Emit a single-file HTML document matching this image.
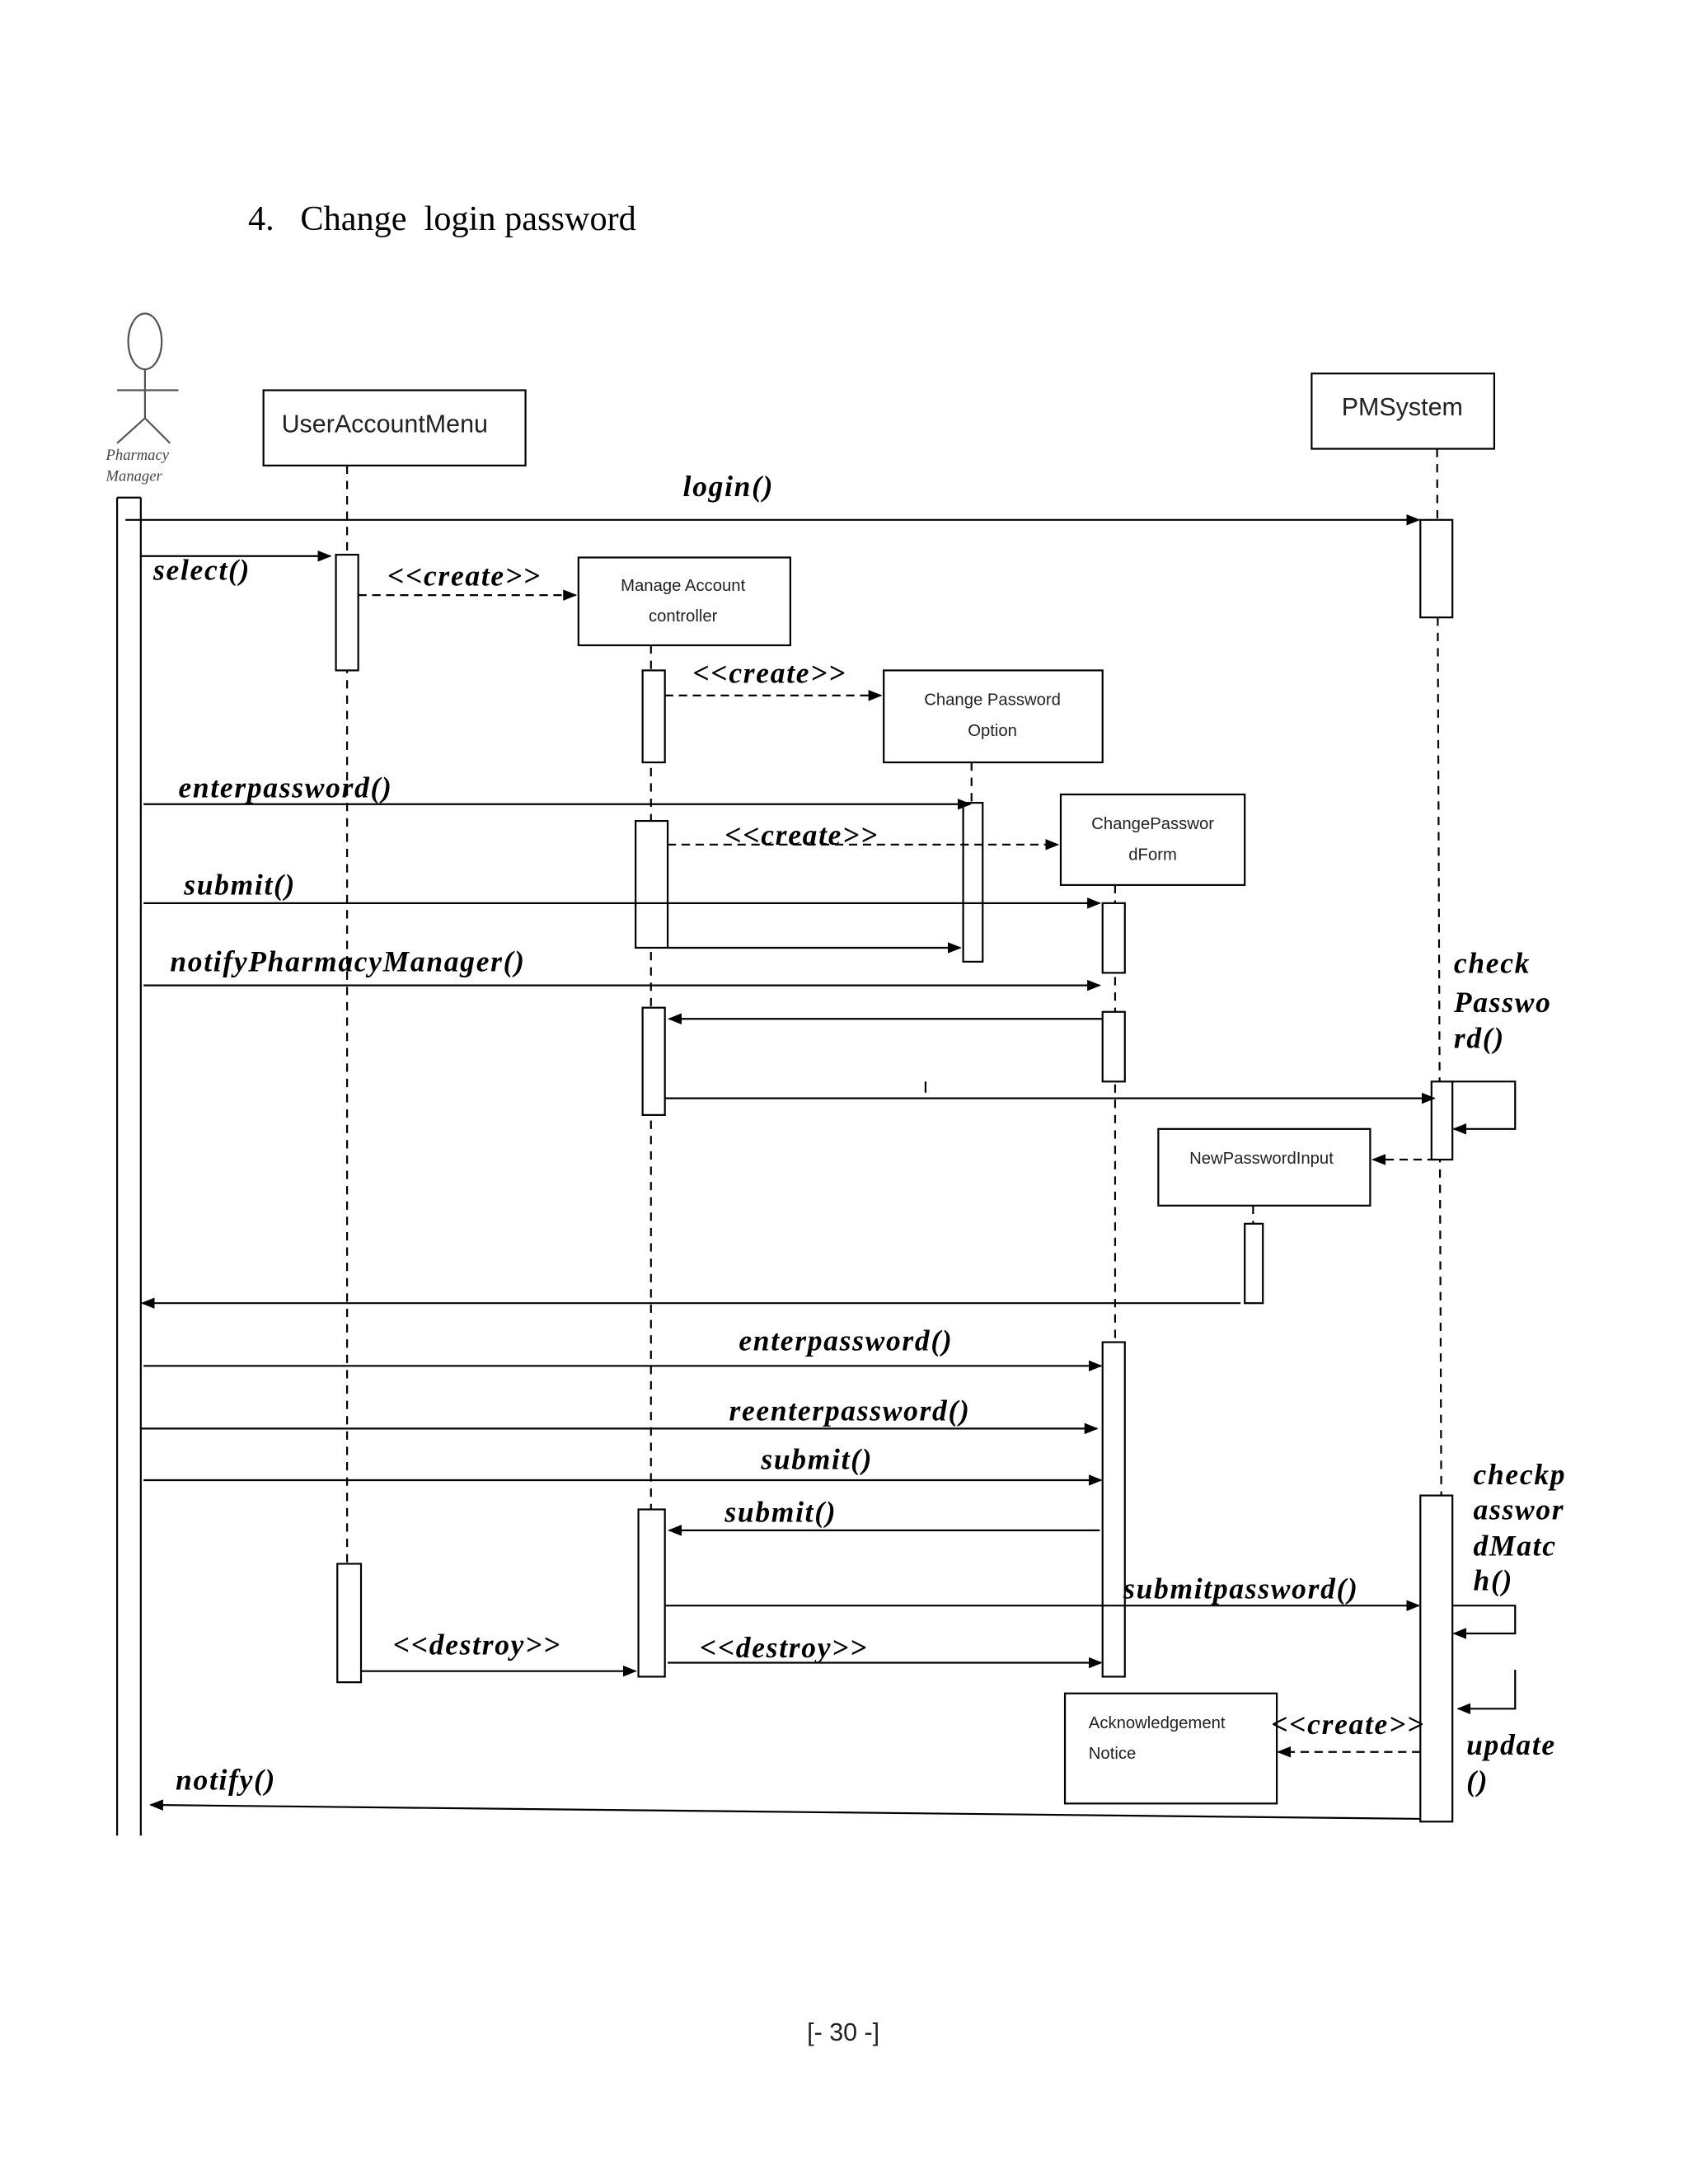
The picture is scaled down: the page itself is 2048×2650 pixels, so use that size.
<!DOCTYPE html>
<html><head><meta charset="utf-8"><style>
html,body{margin:0;padding:0;background:#fff;}
svg{display:block;}
.l{font-family:"Liberation Serif",serif;font-weight:bold;font-style:italic;font-size:21px;fill:#000;letter-spacing:1px;}
.s{font-family:"Liberation Sans",sans-serif;fill:#222;}
</style></head><body>
<svg width="2048" height="2650" viewBox="0 0 1211 1567" xmlns="http://www.w3.org/2000/svg">
<defs><marker id="a" markerWidth="10" markerHeight="8" refX="9" refY="4" orient="auto" markerUnits="userSpaceOnUse"><path d="M0,0 L10,4 L0,8 z" fill="#000"/></marker></defs>
<rect width="1211" height="1567" fill="#fff"/>
<text x="178" y="165" font-family="Liberation Serif,serif" font-size="25" style="white-space:pre">4.   Change  login password</text>
<g stroke="#000" stroke-width="1.3" fill="none">
<ellipse cx="104" cy="245" rx="12" ry="20" stroke="#555"/>
<line x1="104" y1="265" x2="104" y2="300" stroke="#555"/>
<line x1="84" y1="280" x2="128" y2="280" stroke="#555"/>
<line x1="104" y1="300" x2="84" y2="318" stroke="#555"/>
<line x1="104" y1="300" x2="122" y2="318" stroke="#555"/>
<line x1="84" y1="357" x2="84" y2="1317"/>
<line x1="101" y1="357" x2="101" y2="1317"/>
<line x1="84" y1="357" x2="101" y2="357"/>
<rect x="189" y="280" width="188" height="54"/>
<rect x="941" y="268" width="131" height="54"/>
<rect x="415" y="400" width="152" height="63"/>
<rect x="634" y="481" width="157" height="66"/>
<rect x="761" y="570" width="132" height="65"/>
<rect x="831" y="810" width="152" height="55"/>
<rect x="764" y="1215" width="152" height="79"/>
<g stroke-dasharray="6,5">
<line x1="249" y1="334" x2="249" y2="1122"/>
<line x1="467" y1="463" x2="467" y2="1083"/>
<line x1="697" y1="547" x2="697" y2="576"/>
<line x1="800" y1="635" x2="800" y2="963"/>
<line x1="1031" y1="322" x2="1034" y2="1073"/>
<line x1="899" y1="865" x2="899" y2="878"/>
</g>
<g fill="#fff">
<rect x="241" y="398" width="16" height="83"/>
<rect x="242" y="1122" width="17" height="85"/>
<rect x="461" y="481" width="16" height="66"/>
<rect x="456" y="589" width="23" height="91"/>
<rect x="461" y="723" width="16" height="77"/>
<rect x="458" y="1083" width="19" height="120"/>
<rect x="691" y="576" width="14" height="114"/>
<rect x="791" y="648" width="16" height="50"/>
<rect x="791" y="726" width="16" height="50"/>
<rect x="791" y="963" width="16" height="240"/>
<rect x="1019" y="373" width="23" height="70"/>
<rect x="1027" y="776" width="15" height="56"/>
<rect x="1019" y="1073" width="23" height="234"/>
<rect x="893" y="878" width="13" height="57"/>
</g>
<g marker-end="url(#a)">
<line x1="90" y1="373" x2="1018" y2="373"/>
<line x1="101" y1="399" x2="237" y2="399"/>
<line x1="257" y1="427" x2="413" y2="427" stroke-dasharray="6,4"/>
<line x1="477" y1="499" x2="632" y2="499" stroke-dasharray="6,4"/>
<line x1="103" y1="577" x2="696" y2="577"/>
<line x1="479" y1="606" x2="759" y2="606" stroke-dasharray="6,4"/>
<line x1="103" y1="648" x2="789" y2="648"/>
<line x1="479" y1="680" x2="689" y2="680"/>
<line x1="103" y1="707" x2="789" y2="707"/>
<line x1="791" y1="731" x2="480" y2="731"/>
<line x1="477" y1="788" x2="1029" y2="788"/>
<polyline points="1042,776 1087,776 1087,810 1043,810"/>
<line x1="1030" y1="832" x2="985" y2="832" stroke-dasharray="6,4"/>
<line x1="890" y1="935" x2="102" y2="935"/>
<line x1="103" y1="980" x2="790" y2="980"/>
<line x1="101" y1="1025" x2="787" y2="1025"/>
<line x1="103" y1="1062" x2="790" y2="1062"/>
<line x1="789" y1="1098" x2="480" y2="1098"/>
<line x1="477" y1="1152" x2="1018" y2="1152"/>
<line x1="259" y1="1199" x2="456" y2="1199"/>
<line x1="479" y1="1193" x2="790" y2="1193"/>
<polyline points="1042,1152 1087,1152 1087,1172 1043,1172"/>
<polyline points="1087,1198 1087,1226 1046,1226"/>
<line x1="1019" y1="1257" x2="917" y2="1257" stroke-dasharray="6,4"/>
<line x1="1019" y1="1305" x2="108" y2="1295"/>
</g>
<line x1="664" y1="776" x2="664" y2="784"/>
</g>
<text x="76" y="330" style="font-family:'Liberation Serif',serif;font-style:italic;font-size:11px;fill:#444">Pharmacy</text>
<text x="76" y="345" style="font-family:'Liberation Serif',serif;font-style:italic;font-size:11px;fill:#444">Manager</text>
<g class="s" text-anchor="middle">
<text x="276" y="310" font-size="18">UserAccountMenu</text>
<text x="1006" y="298" font-size="18">PMSystem</text>
<text x="490" y="424" font-size="12">Manage Account</text>
<text x="490" y="446" font-size="12">controller</text>
<text x="712" y="506" font-size="12">Change Password</text>
<text x="712" y="528" font-size="12">Option</text>
<text x="827" y="595" font-size="12">ChangePasswor</text>
<text x="827" y="617" font-size="12">dForm</text>
<text x="905" y="835" font-size="12">NewPasswordInput</text>
<text x="605" y="1464" font-size="18">[- 30 -]</text>
</g>
<g class="s" font-size="12">
<text x="781" y="1240">Acknowledgement</text>
<text x="781" y="1262">Notice</text>
</g>
<g class="l">
<text x="490" y="356">login()</text>
<text x="110" y="416">select()</text>
<text x="278" y="420">&lt;&lt;create&gt;&gt;</text>
<text x="497" y="490">&lt;&lt;create&gt;&gt;</text>
<text x="128" y="572">enterpassword()</text>
<text x="520" y="606">&lt;&lt;create&gt;&gt;</text>
<text x="132" y="642">submit()</text>
<text x="122" y="697">notifyPharmacyManager()</text>
<text x="1043" y="698">check</text>
<text x="1043" y="726">Passwo</text>
<text x="1043" y="752">rd()</text>
<text x="530" y="969">enterpassword()</text>
<text x="523" y="1019">reenterpassword()</text>
<text x="546" y="1054">submit()</text>
<text x="520" y="1092">submit()</text>
<text x="1057" y="1065">checkp</text>
<text x="1057" y="1090">asswor</text>
<text x="1057" y="1116">dMatc</text>
<text x="1057" y="1141">h()</text>
<text x="806" y="1147">submitpassword()</text>
<text x="282" y="1187">&lt;&lt;destroy&gt;&gt;</text>
<text x="502" y="1189">&lt;&lt;destroy&gt;&gt;</text>
<text x="912" y="1244">&lt;&lt;create&gt;&gt;</text>
<text x="1052" y="1259">update</text>
<text x="1052" y="1285">()</text>
<text x="126" y="1284">notify()</text>
</g>
</svg>
</body></html>
